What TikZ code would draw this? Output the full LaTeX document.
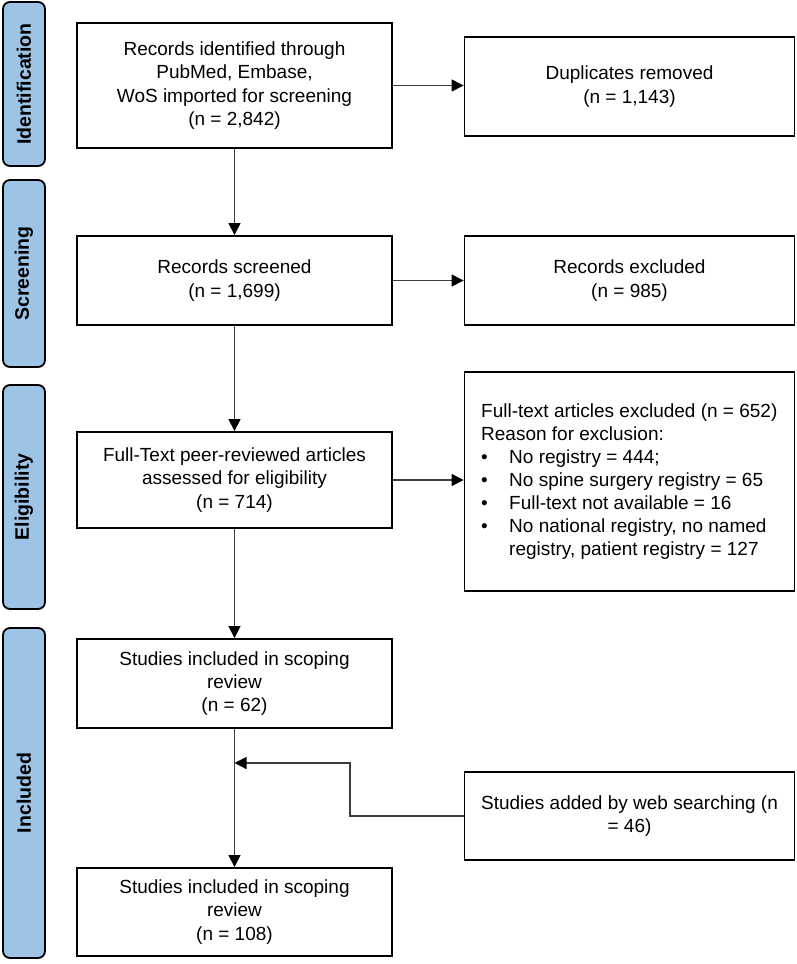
\documentclass[tikz,border=0pt]{standalone}
\usepackage{fontspec}
\setmainfont{Liberation Sans}
\usetikzlibrary{arrows.meta}
\definecolor{tabblue}{RGB}{157,195,230}
\definecolor{connc}{RGB}{60,60,60}
\begin{document}
\begin{tikzpicture}[x=1pt,y=-1pt,
  box/.style={draw=black, line width=1.8pt, fill=white, inner sep=0pt, align=center,
    font=\fontsize{19}{23.3}\selectfont},
  tab/.style={draw=black, line width=1.8pt, fill=tabblue, rounded corners=7pt, rotate=90,
    inner sep=0pt, minimum height=42pt, font=\fontsize{19.5}{23}\selectfont\bfseries},
  conn/.style={draw=connc, line width=1.1pt},
  arr/.style={conn, -{Triangle[length=12pt,width=12pt,color=black]}}]
\useasboundingbox (0,0) rectangle (797,964);

% stage tabs
\node[tab, minimum width=164pt] (tid) at (24,84) {Identification};
\node[tab, minimum width=187pt] (tsc) at (24,273.5) {Screening};
\node[tab, minimum width=224pt] (tel) at (24,497) {Eligibility};
\node[tab, minimum width=330pt] (tin) at (24,793) {Included};

% main boxes
\node[box, minimum width=315pt, minimum height=125pt] (rec) at (234.5,85.5)
  {Records identified through\\PubMed, Embase,\\WoS imported for screening\\(n = 2,842)};
\node[box, minimum width=330pt, minimum height=99pt] (dup) at (629.5,86.5)
  {Duplicates removed\\(n = 1,143)};
\node[box, minimum width=315pt, minimum height=89pt] (scr) at (234.5,280.5)
  {Records screened\\(n = 1,699)};
\node[box, minimum width=330pt, minimum height=89pt] (exc) at (629.5,280.5)
  {Records excluded\\(n = 985)};
\node[box, minimum width=315pt, minimum height=96pt] (ass) at (234.5,480)
  {Full-Text peer-reviewed articles\\assessed for eligibility\\(n = 714)};
\node[box, minimum width=330pt, minimum height=219pt] (ftx) at (629.5,481.5) {};
\node[anchor=west, inner sep=0pt, align=left, font=\fontsize{19}{22.9}\selectfont] (ftxt) at (481,481.5)
  {Full-text articles excluded (n = 652)\\
   Reason for exclusion:\\
   \makebox[28pt][l]{•}No registry = 444;\\
   \makebox[28pt][l]{•}No spine surgery registry = 65\\
   \makebox[28pt][l]{•}Full-text not available = 16\\
   \makebox[28pt][l]{•}No national registry, no named\\
   \hspace*{28pt}registry, patient registry = 127};
\node[box, minimum width=315pt, minimum height=89pt] (s62) at (234.5,683.5)
  {Studies included in scoping\\review\\(n = 62)};
\node[box, minimum width=330pt, minimum height=88pt] (web) at (629.5,816)
  {Studies added by web searching (n\\= 46)};
\node[box, minimum width=315pt, minimum height=88pt] (s108) at (234.5,912)
  {Studies included in scoping\\review\\(n = 108)};

% connectors
\draw[arr] (rec.east) -- (rec.east -| dup.west);
\draw[arr] (scr.east) -- (exc.west);
\draw[arr] (ass.east) -- (ass.east -| ftx.west);
\draw[arr] (rec.south) -- (scr.north);
\draw[arr] (scr.south) -- (ass.north);
\draw[arr] (ass.south) -- (s62.north);
\draw[arr] (s62.south) -- (s108.north);
\coordinate (join) at (234.5,763);
\coordinate (turn) at (350,763);
\draw[arr] (web.west) -| (turn) -- (join);
\end{tikzpicture}
\end{document}
